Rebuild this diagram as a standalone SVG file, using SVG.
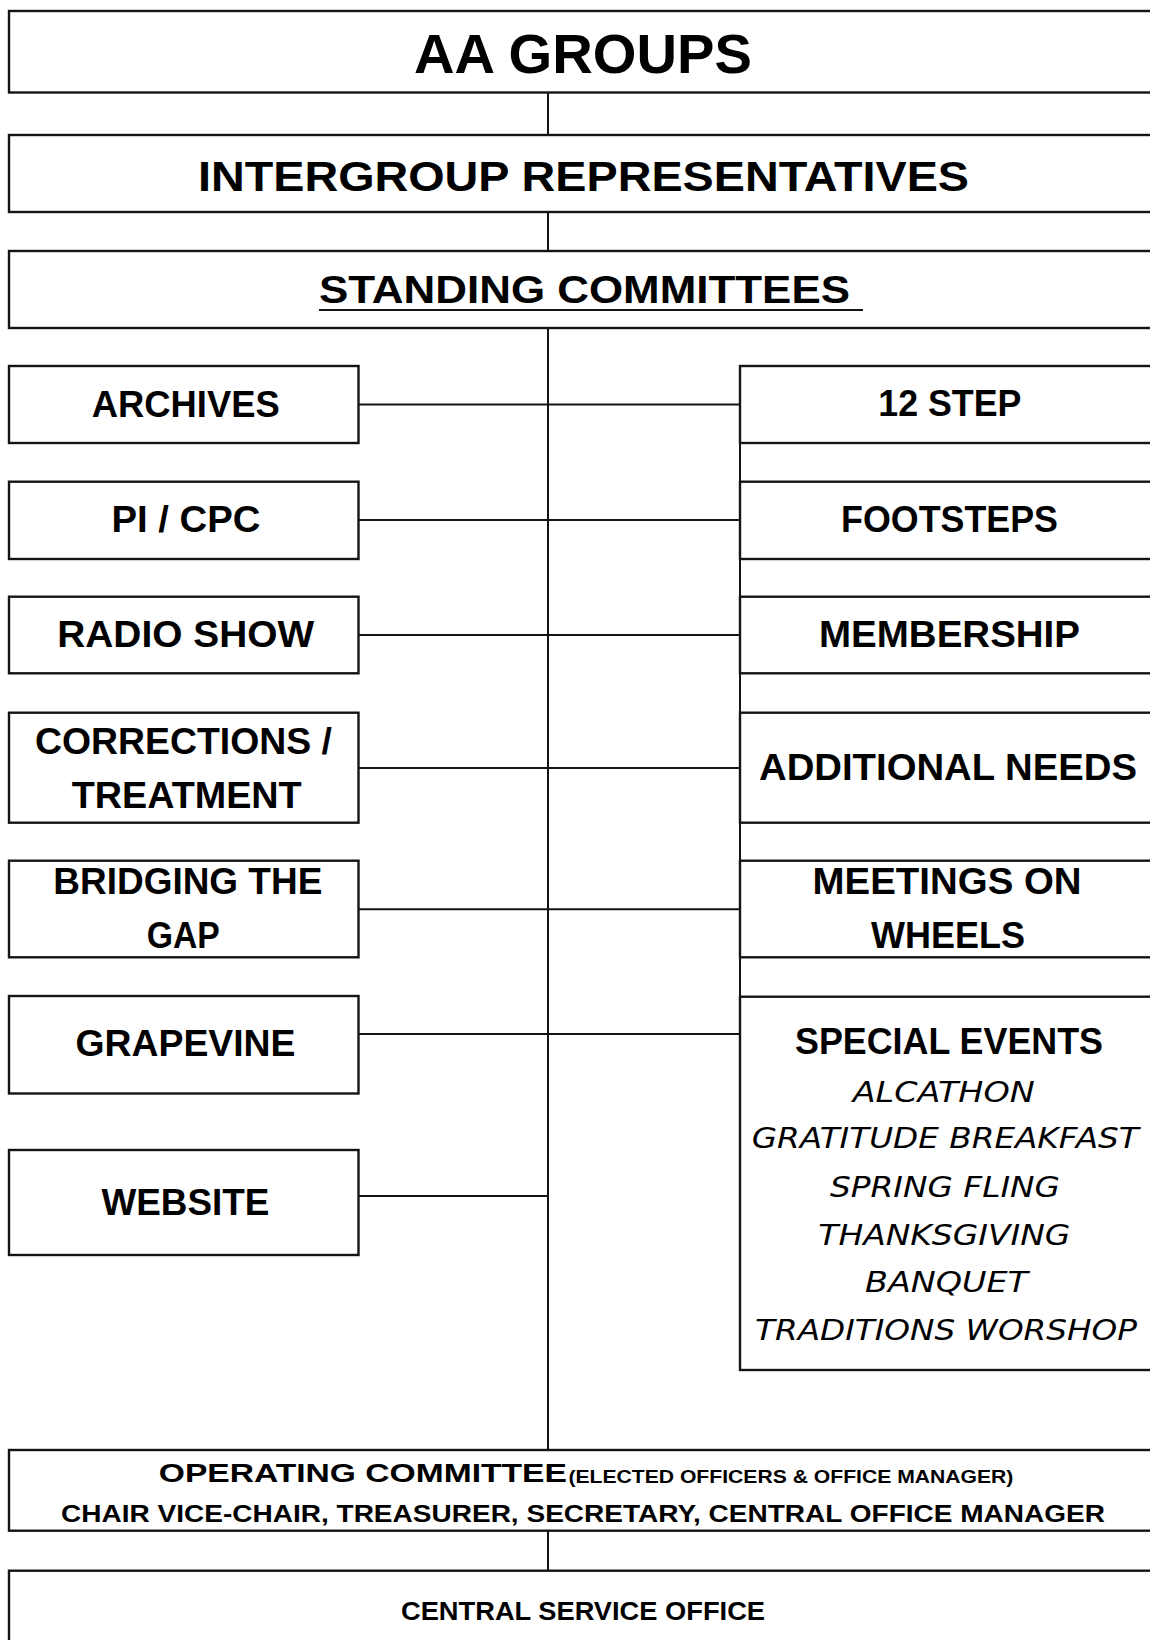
<svg xmlns="http://www.w3.org/2000/svg" width="1150" height="1640" viewBox="0 0 1150 1640">
  <style>
    .box { fill: #ffffff; stroke: #141414; stroke-width: 2.4; }
    .link { stroke: #141414; stroke-width: 2; fill: none; }
    .lbl { font-family: "Liberation Sans", Arial, sans-serif; font-weight: bold; fill: #000; }
    .big { font-size: 55px; }
    .head { font-size: 43px; }
    .sub { font-size: 39px; }
    .item { font-size: 37.5px; }
    .ev { font-family: "DejaVu Sans", Verdana, sans-serif; font-style: italic; font-size: 28px; fill: #000; }
  </style>
  <rect width="1150" height="1640" fill="#ffffff"/>

  <!-- connectors -->
  <g id="connectors">
    <line class="link" x1="548" y1="92" x2="548" y2="135"/>
    <line class="link" x1="548" y1="212" x2="548" y2="251"/>
    <line class="link" x1="548" y1="328" x2="548" y2="1450"/>
    <line class="link" x1="548" y1="1530" x2="548" y2="1571"/>
    <line class="link" x1="740" y1="366" x2="740" y2="1370"/>
    <line class="link" x1="358" y1="404.5" x2="740" y2="404.5"/>
    <line class="link" x1="358" y1="520" x2="740" y2="520"/>
    <line class="link" x1="358" y1="635" x2="740" y2="635"/>
    <line class="link" x1="358" y1="768" x2="740" y2="768"/>
    <line class="link" x1="358" y1="909.3" x2="740" y2="909.3"/>
    <line class="link" x1="358" y1="1034" x2="740" y2="1034"/>
    <line class="link" x1="358" y1="1196" x2="548" y2="1196"/>
  </g>

  <!-- top hierarchy -->
  <g id="aa-groups">
    <rect class="box" x="9" y="11" width="1160" height="81.5"/>
    <text class="lbl big" x="414" y="72.7" textLength="338" lengthAdjust="spacingAndGlyphs">AA GROUPS</text>
  </g>
  <g id="intergroup">
    <rect class="box" x="9" y="135" width="1160" height="77"/>
    <text class="lbl head" x="198" y="190.7" textLength="771" lengthAdjust="spacingAndGlyphs">INTERGROUP REPRESENTATIVES</text>
  </g>
  <g id="standing">
    <rect class="box" x="9" y="251" width="1160" height="77"/>
    <text class="lbl sub" x="319" y="303.3" textLength="531" lengthAdjust="spacingAndGlyphs">STANDING COMMITTEES</text>
    <line class="link" x1="319" y1="310" x2="863" y2="310"/>
  </g>

  <!-- left column -->
  <g id="archives">
    <rect class="box" x="9" y="366" width="349.5" height="77"/>
    <text class="lbl item" x="91.7" y="416.7" textLength="188" lengthAdjust="spacingAndGlyphs">ARCHIVES</text>
  </g>
  <g id="pi-cpc">
    <rect class="box" x="9" y="481.7" width="349.5" height="77.3"/>
    <text class="lbl item" x="111.5" y="531.7" textLength="149" lengthAdjust="spacingAndGlyphs">PI / CPC</text>
  </g>
  <g id="radio-show">
    <rect class="box" x="9" y="596.7" width="349.5" height="76.6"/>
    <text class="lbl item" x="57.2" y="646.7" textLength="257" lengthAdjust="spacingAndGlyphs">RADIO SHOW</text>
  </g>
  <g id="corrections">
    <rect class="box" x="9" y="712.7" width="349.5" height="110"/>
    <text class="lbl item" x="35" y="754" textLength="297" lengthAdjust="spacingAndGlyphs">CORRECTIONS /</text>
    <text class="lbl item" x="71.7" y="808.3" textLength="230" lengthAdjust="spacingAndGlyphs">TREATMENT</text>
  </g>
  <g id="bridging">
    <rect class="box" x="9" y="860.7" width="349.5" height="96.6"/>
    <text class="lbl item" x="53.3" y="894.3" textLength="269" lengthAdjust="spacingAndGlyphs">BRIDGING THE</text>
    <text class="lbl item" x="146.7" y="948.3" textLength="73" lengthAdjust="spacingAndGlyphs">GAP</text>
  </g>
  <g id="grapevine">
    <rect class="box" x="9" y="996" width="349.5" height="97.5"/>
    <text class="lbl item" x="75.5" y="1056" textLength="220" lengthAdjust="spacingAndGlyphs">GRAPEVINE</text>
  </g>
  <g id="website">
    <rect class="box" x="9" y="1150" width="349.5" height="105"/>
    <text class="lbl item" x="101.4" y="1215" textLength="168" lengthAdjust="spacingAndGlyphs">WEBSITE</text>
  </g>

  <!-- right column -->
  <g id="twelve-step">
    <rect class="box" x="740" y="366" width="430" height="77"/>
    <text class="lbl item" x="878.3" y="416" textLength="143" lengthAdjust="spacingAndGlyphs">12 STEP</text>
  </g>
  <g id="footsteps">
    <rect class="box" x="740" y="481.7" width="430" height="77.3"/>
    <text class="lbl item" x="841" y="531.7" textLength="217" lengthAdjust="spacingAndGlyphs">FOOTSTEPS</text>
  </g>
  <g id="membership">
    <rect class="box" x="740" y="596.7" width="430" height="76.6"/>
    <text class="lbl item" x="819" y="646.7" textLength="261" lengthAdjust="spacingAndGlyphs">MEMBERSHIP</text>
  </g>
  <g id="additional-needs">
    <rect class="box" x="740" y="712.7" width="430" height="110"/>
    <text class="lbl item" x="759" y="780" textLength="378" lengthAdjust="spacingAndGlyphs">ADDITIONAL NEEDS</text>
  </g>
  <g id="meetings-on-wheels">
    <rect class="box" x="740" y="860.7" width="430" height="96.6"/>
    <text class="lbl item" x="812.6" y="894.3" textLength="269" lengthAdjust="spacingAndGlyphs">MEETINGS ON</text>
    <text class="lbl item" x="871" y="948.3" textLength="154" lengthAdjust="spacingAndGlyphs">WHEELS</text>
  </g>
  <g id="special-events">
    <rect class="box" x="740" y="996.7" width="430" height="373.3"/>
    <text class="lbl item" x="795" y="1054" textLength="308" lengthAdjust="spacingAndGlyphs">SPECIAL EVENTS</text>
    <text class="ev" x="852.7" y="1101.7" textLength="182" lengthAdjust="spacingAndGlyphs">ALCATHON</text>
    <text class="ev" x="751.7" y="1148.3" textLength="387" lengthAdjust="spacingAndGlyphs">GRATITUDE BREAKFAST</text>
    <text class="ev" x="830" y="1196.7" textLength="230" lengthAdjust="spacingAndGlyphs">SPRING FLING</text>
    <text class="ev" x="818.3" y="1245" textLength="252" lengthAdjust="spacingAndGlyphs">THANKSGIVING</text>
    <text class="ev" x="865" y="1291.7" textLength="163" lengthAdjust="spacingAndGlyphs">BANQUET</text>
    <text class="ev" x="755" y="1340" textLength="382" lengthAdjust="spacingAndGlyphs">TRADITIONS WORSHOP</text>
  </g>

  <!-- bottom hierarchy -->
  <g id="operating-committee">
    <rect class="box" x="9" y="1450" width="1160" height="80.7"/>
    <text class="lbl" font-size="26.5" x="158.8" y="1481.7" textLength="408" lengthAdjust="spacingAndGlyphs">OPERATING COMMITTEE</text>
    <text class="lbl" font-size="18.5" x="568.4" y="1482.5" textLength="445" lengthAdjust="spacingAndGlyphs">(ELECTED OFFICERS &amp; OFFICE MANAGER)</text>
    <text class="lbl" font-size="23" x="61" y="1521.7" textLength="1044" lengthAdjust="spacingAndGlyphs">CHAIR VICE-CHAIR, TREASURER, SECRETARY, CENTRAL OFFICE MANAGER</text>
  </g>
  <g id="central-service-office">
    <rect class="box" x="9" y="1570.7" width="1160" height="100"/>
    <text class="lbl" font-size="25.5" x="401" y="1620" textLength="364" lengthAdjust="spacingAndGlyphs">CENTRAL SERVICE OFFICE</text>
  </g>
</svg>
